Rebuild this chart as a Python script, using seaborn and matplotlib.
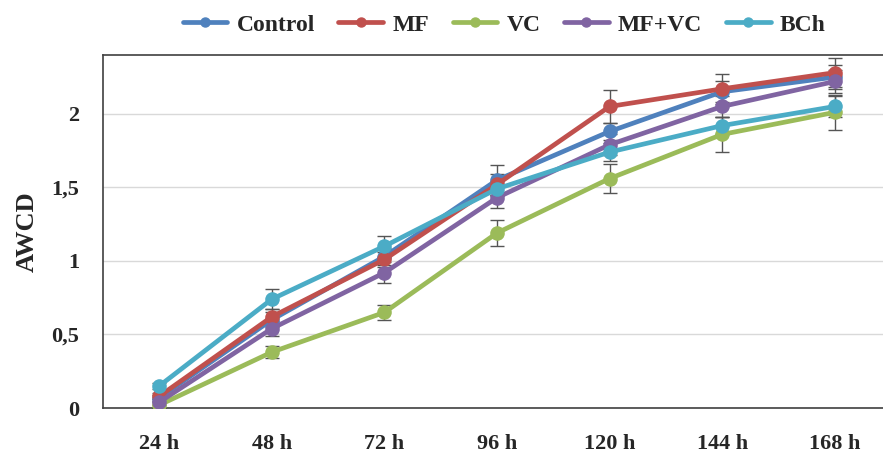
import numpy as np
import pandas as pd
import matplotlib
matplotlib.use("Agg")
import matplotlib.pyplot as plt
import seaborn as sns
from matplotlib.lines import Line2D

times = ["24 h", "48 h", "72 h", "96 h", "120 h", "144 h", "168 h"]
series_names = ["Control", "MF", "VC", "MF+VC", "BCh"]
control = [0.07, 0.60, 1.03, 1.55, 1.88, 2.15, 2.25]
mf = [0.08, 0.62, 1.01, 1.52, 2.05, 2.17, 2.28]
vc = [0.02, 0.38, 0.65, 1.19, 1.56, 1.86, 2.01]
mfvc = [0.04, 0.54, 0.92, 1.43, 1.79, 2.05, 2.22]
bch = [0.15, 0.74, 1.10, 1.49, 1.74, 1.92, 2.05]
control_err = [0.02, 0.05, 0.06, 0.10, 0.06, 0.07, 0.08]
mf_err = [0.02, 0.05, 0.05, 0.07, 0.11, 0.10, 0.10]
vc_err = [0.02, 0.04, 0.05, 0.09, 0.10, 0.12, 0.12]
mfvc_err = [0.02, 0.05, 0.07, 0.07, 0.07, 0.07, 0.08]
bch_err = [0.02, 0.07, 0.07, 0.05, 0.06, 0.06, 0.07]
y_ticks = [0, 0.5, 1, 1.5, 2]
y_tick_labels = ["0", "0,5", "1", "1,5", "2"]

colors = ["#4F81BD", "#C0504D", "#9BBB59", "#8064A2", "#4BACC6"]
values = [control, mf, vc, mfvc, bch]
errors = [control_err, mf_err, vc_err, mfvc_err, bch_err]

rows = []
for name, vals, errs in zip(series_names, values, errors):
    for i, (t, v, e) in enumerate(zip(times, vals, errs)):
        rows.append({"series": name, "idx": i, "time": t, "value": v, "err": e})
df = pd.DataFrame(rows)

sns.set_theme(style="white")
plt.rcParams['font.family'] = ['Liberation Serif', 'DejaVu Serif']
plt.rcParams['font.weight'] = 'bold'

fig = plt.figure(figsize=(8.83, 4.53), dpi=100)
ax = fig.add_axes([103/883, 45/453, 788/883, 353/453])

ax.yaxis.grid(True, color="#D9D9D9", linewidth=1.0)
ax.set_axisbelow(True)

for name, col in zip(series_names, colors):
    sub = df[df.series == name]
    ax.errorbar(sub["idx"], sub["value"], yerr=sub["err"], fmt="none",
                ecolor="#555555", elinewidth=1.0, capsize=5, capthick=1.0, zorder=2)

sns.lineplot(data=df, x="idx", y="value", hue="series", hue_order=series_names,
             palette=colors, marker="o", markersize=10.5, markeredgewidth=0,
             linewidth=3.4, ax=ax, legend=False, zorder=3)

ax.set_xlim(-0.5, 6.5)
ax.set_ylim(0, 2.4)
ax.set_xticks(range(len(times)))
ax.set_xticklabels(times, fontsize=16, fontweight="bold")
ax.set_yticks(y_ticks)
ax.set_yticklabels(y_tick_labels, fontsize=16, fontweight="bold")
ax.tick_params(axis="both", length=0)
ax.tick_params(axis="x", pad=19)
ax.tick_params(axis="y", pad=17)
ax.set_xlabel("")
ax.set_ylabel("AWCD", fontsize=19, fontweight="bold", labelpad=9)
for s in ax.spines.values():
    s.set_color("#404040")
    s.set_linewidth(1.2)

handles = [Line2D([0], [0], color=c, linewidth=3.4, marker="o", markersize=6.5) for c in colors]
fig.legend(handles, series_names, loc="center", bbox_to_anchor=(504/883, 1 - 25/453),
           ncol=5, frameon=False, handlelength=1.9, columnspacing=1.0, handletextpad=0.38,
           prop={"family": "Liberation Serif", "weight": "bold", "size": 17})

fig.savefig("out.png", dpi=100)
